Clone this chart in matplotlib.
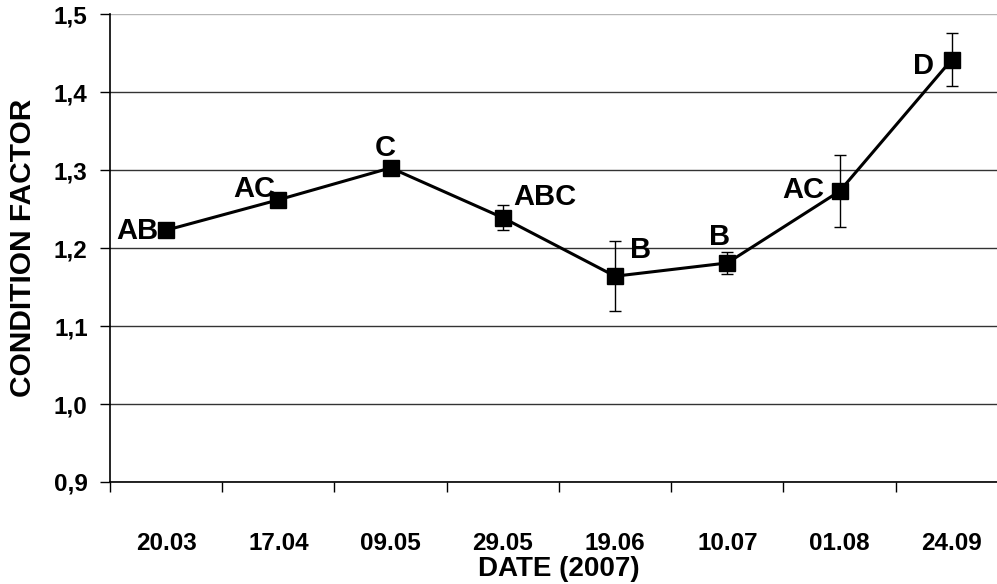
from matplotlib import pyplot as plt
import matplotlib.ticker

dates = ['20.03', '17.04', '09.05', '29.05', '19.06', '10.07', '01.08', '24.09']
condition = [1.223, 1.262, 1.303, 1.239, 1.164, 1.181, 1.273, 1.442]
errors = [0.004, 0.004, 0.004, 0.016, 0.045, 0.014, 0.046, 0.034]
groups = ['AB', 'AC', 'C', 'ABC', 'B', 'B', 'AC', 'D']

# where each letter sits relative to its point (pixels)
offsets = [(-29, -1), (-24, 11), (-5, 20), (42, 21), (25, 26), (-8, 26), (-36, 1), (-28, -6)]

plt.rcParams['font.family'] = ['Liberation Sans', 'DejaVu Sans']
plt.rcParams['font.weight'] = 'bold'

fig = plt.figure(figsize=(9.97, 5.84), dpi=100)
ax = fig.add_axes([0.1103, 0.1747, 0.9007, 0.8008])

x = list(range(len(dates)))
ax.errorbar(x, condition, yerr=errors, fmt='s-', color='black', ms=12, lw=2.2,
            elinewidth=1, capsize=4.5, capthick=1, zorder=3)

for i in range(len(x)):
    ax.annotate(groups[i], (x[i], condition[i]), xytext=offsets[i], textcoords='offset pixels',
                ha='center', va='center', fontsize=21, fontweight='bold', zorder=4)

ax.set_xlim(-0.5, len(dates) - 0.5)
ax.set_ylim(0.9, 1.5)
ax.set_yticks([0.9, 1.0, 1.1, 1.2, 1.3, 1.4, 1.5])
ax.yaxis.set_major_formatter(matplotlib.ticker.FuncFormatter(lambda v, p: ('%.1f' % v).replace('.', ',')))
ax.set_xticks(x)
ax.set_xticklabels(dates)
ax.set_xticks([i - 0.5 for i in range(len(dates) + 1)], minor=True)

ax.tick_params(axis='x', which='major', length=0, pad=36, labelsize=17.5)
ax.tick_params(axis='x', which='minor', length=7, width=1, direction='out')
ax.tick_params(axis='y', length=7, width=1, direction='out', pad=9, labelsize=17.5)

ax.yaxis.grid(True, color='#333333', lw=1)
ax.get_ygridlines()[-1].set_color('#b5b5b5')
ax.set_axisbelow(True)
for s in ['top', 'right']:
    ax.spines[s].set_visible(False)
ax.spines['left'].set_linewidth(1.2)
ax.spines['bottom'].set_linewidth(1.2)

ax.set_xlabel('DATE (2007)', fontsize=20, fontweight='bold', labelpad=1)
ax.set_ylabel('CONDITION FACTOR', fontsize=21.5, fontweight='bold', labelpad=12)

plt.savefig('out.png', dpi=100)
